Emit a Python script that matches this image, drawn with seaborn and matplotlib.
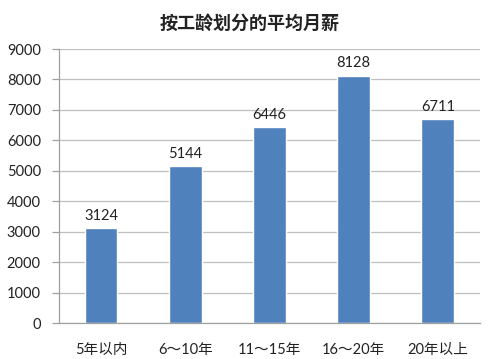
import matplotlib
matplotlib.use("Agg")
import matplotlib.pyplot as plt
import seaborn as sns
import pandas as pd
import numpy as np

categories = ["5年以内", "6～10年", "11～15年", "16～20年", "20年以上"]
values = [3124, 5144, 6446, 8128, 6711]
yticks = [0, 1000, 2000, 3000, 4000, 5000, 6000, 7000, 8000, 9000]
title = "按工龄划分的平均月薪"

sns.set_style("white")
plt.rcParams['font.family'] = ['Lato', 'Noto Sans CJK SC', 'DejaVu Sans']

df = pd.DataFrame({"cat": categories, "val": values})

fig = plt.figure(figsize=(4.99, 3.59), dpi=100)
ax = fig.add_axes([0.118, 0.100, 0.844, 0.7635])
sns.barplot(data=df, x="cat", y="val", color="#4F81BD", width=0.39, ax=ax, saturation=1)

ax.set_ylim(0, 9000)
ax.set_xlim(-0.5, 4.5)
ax.set_yticks(yticks)
ax.set_yticklabels([str(t) for t in yticks], fontsize=10.5, color="#222222")
ax.yaxis.grid(True, color="#BFBFBF", linewidth=0.9)
ax.set_axisbelow(True)
ax.set_xlabel("")
ax.set_ylabel("")
ax.tick_params(axis="x", length=0, labelsize=10.5, pad=14, colors="#222222")
ax.set_xticks(range(len(categories)))
ax.set_xticklabels(categories)
ax.set_xticks(np.arange(-0.5, 5, 1), minor=True)
ax.tick_params(axis="x", which="minor", length=5, color="#A0A0A0", width=0.9)
ax.tick_params(axis="y", length=5, color="#A0A0A0", width=0.9, left=True, pad=8)

for s in ["top", "right"]:
    ax.spines[s].set_visible(False)
for s in ["left", "bottom"]:
    ax.spines[s].set_color("#A0A0A0")
    ax.spines[s].set_linewidth(0.9)

for i, v in enumerate(values):
    ax.text(i, v + 170, str(v), ha="center", va="bottom", fontsize=10.5, color="#222222")

fig.text(0.5, 0.935, title, ha="center", va="center", fontsize=13, fontweight="bold",
         color="#222222", family=['Noto Sans CJK SC', 'DejaVu Sans'])

fig.savefig("out.png", dpi=100, facecolor="white")
